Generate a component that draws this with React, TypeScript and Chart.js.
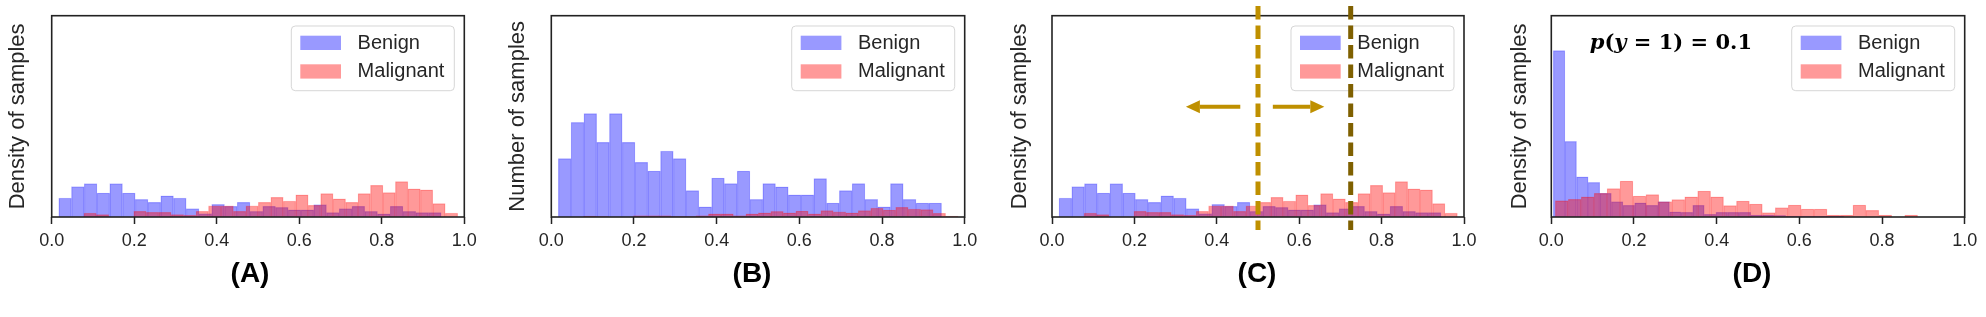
import React, { useEffect, useRef } from 'react';
import { Chart, registerables } from 'chart.js';

Chart.register(...registerables);

// ---------- data ----------
const X_TICKS = [0, 0.2, 0.4, 0.6, 0.8, 1.0];
const SERIES = ['Benign', 'Malignant'];
const CAPTIONS = ['(A)', '(B)', '(C)', '(D)'];
const Y_TITLES = ['Density of samples', 'Number of samples', 'Density of samples', 'Density of samples'];

// histogram bins: [left edge of first bin, bin width]
const BENIGN_BINS_ABC = [0.017, 0.0309];
const MALIGNANT_BINS_ABC = [0.078, 0.0302];
const BENIGN_BINS_D = [0.0048, 0.0281];
const MALIGNANT_BINS_D = [0.0097, 0.0313];

// (A) and (C): density
const benignDensityA = [1.57, 2.53, 2.78, 2.0, 2.78, 2.0, 1.47, 1.23, 1.77, 1.57, 0.7, 0.28, 1.05, 0.9, 1.23,
  0.47, 0.9, 0.8, 0.6, 0.6, 1.03, 0.37, 0.7, 0.9, 0.47, 0.27, 0.9, 0.47, 0.37, 0.37];
const malignantDensityA = [0.32, 0.21, 0, 0, 0.48, 0.4, 0.4, 0.21, 0.15, 0.48, 0.93, 0.93, 0.48, 0.93, 1.23,
  1.65, 1.32, 1.85, 0.98, 1.96, 1.52, 1.23, 1.96, 2.65, 2.04, 2.96, 2.35, 2.27, 1.13, 0.32];

// (B): counts
const benignCountB = [126, 204, 223, 161, 223, 161, 118, 99, 142, 126, 57, 22, 84, 72, 99,
  38, 72, 65, 48, 48, 83, 30, 57, 72, 38, 22, 72, 38, 30, 30];
const malignantCountB = [2, 1, 0, 0, 3, 3, 3, 1, 1, 3, 7, 7, 3, 7, 9,
  12, 9, 13, 7, 14, 11, 9, 14, 19, 15, 21, 17, 16, 8, 2];

// (D): density with p(y=1)=0.1
const benignDensityD = [13.89, 6.31, 3.36, 2.89, 1.98, 1.28, 0.98, 1.19, 0.98, 1.28, 0.44, 0.39, 0.98, 0.23, 0.39,
  0.39, 0.39, 0.17, 0.17, 0.13, 0.08, 0.08, 0.08, 0.06, 0.06];
const malignantDensityD = [1.36, 1.48, 1.69, 1.98, 2.38, 3.0, 1.75, 1.88, 1.28, 1.46, 1.69, 2.17, 1.69, 0.96,
  1.33, 1.08, 0.36, 0.78, 1.0, 0.67, 0.67, 0.17, 0.17, 1.0, 0.56, 0.17, 0, 0.17];

// (C) annotations
const thresholdsC = [0.5, 0.725];
const arrowStartC = [0.457, 0.536];
const arrowEndC = [0.325, 0.661];
const arrowLevelC = 9.2;
const PRIOR_LABEL = ['p', '(', 'y', ' = 1) = 0.1'];

const Y_MAX_DENSITY = 16.8;
const Y_MAX_COUNT = 434;

// ---------- styles / layout ----------
const FONT = '"Liberation Sans", Arial, Helvetica, sans-serif';
const TEXT_COLOR = '#262626';
const BENIGN_FILL = 'rgba(0,0,255,0.4)';
const BENIGN_EDGE = 'rgba(0,0,255,0.24)';
const MALIGNANT_FILL = 'rgba(255,0,0,0.4)';
const MALIGNANT_EDGE = 'rgba(255,0,0,0.24)';
const THRESHOLD_COLORS = ['#BF9000', '#7F6000'];
const ARROW_COLOR = '#BF9000';
const H = 317;
const PLOT_TOP = 15.7;
const PLOT_BOTTOM = 217;
const Y_TITLE_SIZE = 22;

const PANELS = [
  { canvasLeft: 0, width: 496, plotLeft: 51.7, plotRight: 464.3, yTitleX: 18.3, yMax: Y_MAX_DENSITY,
    benign: benignDensityA, malignant: malignantDensityA, bBins: BENIGN_BINS_ABC, mBins: MALIGNANT_BINS_ABC, captionX: 250 },
  { canvasLeft: 496, width: 496, plotLeft: 551.3, plotRight: 964.7, yTitleX: 517.7, yMax: Y_MAX_COUNT,
    benign: benignCountB, malignant: malignantCountB, bBins: BENIGN_BINS_ABC, mBins: MALIGNANT_BINS_ABC, captionX: 752 },
  { canvasLeft: 992, width: 496, plotLeft: 1052, plotRight: 1464, yTitleX: 1020.3, yMax: Y_MAX_DENSITY,
    benign: benignDensityA, malignant: malignantDensityA, bBins: BENIGN_BINS_ABC, mBins: MALIGNANT_BINS_ABC, captionX: 1257,
    annotate: true },
  { canvasLeft: 1488, width: 498, plotLeft: 1551.3, plotRight: 1964.7, yTitleX: 1519.7, yMax: Y_MAX_DENSITY,
    benign: benignDensityD, malignant: malignantDensityD, bBins: BENIGN_BINS_D, mBins: MALIGNANT_BINS_D, captionX: 1752 },
];

const binPoints = (values: number[], bins: number[]) =>
  values.map((v, i) => ({ x: bins[0] + bins[1] * (i + 0.5), y: v }));

function roundRect(ctx: CanvasRenderingContext2D, x: number, y: number, w: number, h: number, r: number) {
  ctx.beginPath();
  ctx.moveTo(x + r, y);
  ctx.lineTo(x + w - r, y);
  ctx.arcTo(x + w, y, x + w, y + r, r);
  ctx.lineTo(x + w, y + h - r);
  ctx.arcTo(x + w, y + h, x + w - r, y + h, r);
  ctx.lineTo(x + r, y + h);
  ctx.arcTo(x, y + h, x, y + h - r, r);
  ctx.lineTo(x, y + r);
  ctx.arcTo(x, y, x + r, y, r);
  ctx.closePath();
}

const framePlugin = {
  id: 'frameBox',
  afterDatasetsDraw(chart: any) {
    const { ctx, chartArea: a } = chart;
    ctx.save();
    ctx.strokeStyle = '#222';
    ctx.lineWidth = 1.6;
    ctx.strokeRect(a.left, a.top, a.right - a.left, a.bottom - a.top);
    ctx.restore();
  },
};

const legendPlugin = {
  id: 'boxLegend',
  afterDraw(chart: any) {
    const { ctx, chartArea: a } = chart;
    const w = 163, h = 64.7;
    const x0 = a.right - 10 - w, y0 = a.top + 10.3;
    ctx.save();
    roundRect(ctx, x0, y0, w, h, 4);
    ctx.fillStyle = 'rgba(255,255,255,0.8)';
    ctx.fill();
    ctx.strokeStyle = 'rgba(204,204,204,0.8)';
    ctx.lineWidth = 1;
    ctx.stroke();
    SERIES.forEach((name, i) => {
      const py = y0 + 9.7 + i * 28.6;
      ctx.fillStyle = i === 0 ? BENIGN_FILL : MALIGNANT_FILL;
      ctx.fillRect(x0 + 9, py, 40.7, 14.3);
      ctx.fillStyle = TEXT_COLOR;
      ctx.font = `20px ${FONT}`;
      ctx.textBaseline = 'middle';
      ctx.textAlign = 'left';
      ctx.fillText(name, x0 + 66.3, py + 7.4);
    });
    ctx.restore();
  },
};

const annotationPlugin = {
  id: 'thresholdLines',
  afterDraw(chart: any) {
    if (!chart.options.plugins.thresholdLines?.enabled) return;
    const { ctx, chartArea: a, scales } = chart;
    const xs = scales.x, ys = scales.y;
    ctx.save();
    // arrows
    const yA = ys.getPixelForValue(arrowLevelC);
    arrowStartC.forEach((s, i) => {
      const x1 = xs.getPixelForValue(s);
      const x2 = xs.getPixelForValue(arrowEndC[i]);
      const dir = x2 > x1 ? 1 : -1;
      const headLen = 14, headHalf = 6.5;
      ctx.strokeStyle = ARROW_COLOR;
      ctx.fillStyle = ARROW_COLOR;
      ctx.lineWidth = 4;
      ctx.setLineDash([]);
      ctx.beginPath();
      ctx.moveTo(x1, yA);
      ctx.lineTo(x2 - dir * headLen, yA);
      ctx.stroke();
      ctx.beginPath();
      ctx.moveTo(x2, yA);
      ctx.lineTo(x2 - dir * headLen, yA - headHalf);
      ctx.lineTo(x2 - dir * headLen, yA + headHalf);
      ctx.closePath();
      ctx.fill();
    });
    // dashed thresholds
    thresholdsC.forEach((t, i) => {
      const x = xs.getPixelForValue(t);
      ctx.strokeStyle = THRESHOLD_COLORS[i];
      ctx.lineWidth = 5;
      ctx.setLineDash([13.5, 6]);
      ctx.beginPath();
      ctx.moveTo(x, a.top - 9.7);
      ctx.lineTo(x, a.bottom + 13);
      ctx.stroke();
    });
    ctx.restore();
  },
};

function Panel({ idx }: { idx: number }) {
  const ref = useRef<HTMLCanvasElement>(null);
  const cfg: any = PANELS[idx];
  useEffect(() => {
    const canvas = ref.current;
    if (!canvas) return;
    const lh = Y_TITLE_SIZE * 1.2;
    const chart = new Chart(canvas, {
      type: 'bar',
      data: {
        datasets: [
          {
            label: SERIES[1],
            data: binPoints(cfg.malignant, cfg.mBins),
            xAxisID: 'xm',
            backgroundColor: MALIGNANT_FILL,
            borderColor: MALIGNANT_EDGE,
            borderWidth: 0.6,
            barPercentage: 1,
            categoryPercentage: 1,
            grouped: false,
            order: 1,
          },
          {
            label: SERIES[0],
            data: binPoints(cfg.benign, cfg.bBins),
            xAxisID: 'x',
            backgroundColor: BENIGN_FILL,
            borderColor: BENIGN_EDGE,
            borderWidth: 0.6,
            barPercentage: 1,
            categoryPercentage: 1,
            grouped: false,
            order: 2,
          },
        ],
      } as any,
      options: {
        responsive: false,
        animation: false,
        events: [],
        layout: {
          padding: { top: PLOT_TOP, bottom: 0, left: 0, right: cfg.canvasLeft + cfg.width - cfg.plotRight },
        },
        plugins: {
          legend: { display: false },
          tooltip: { enabled: false },
          thresholdLines: { enabled: !!cfg.annotate },
        } as any,
        scales: {
          x: {
            type: 'linear',
            axis: 'x',
            position: 'bottom',
            min: 0,
            max: 1,
            offset: false,
            afterFit: (s: any) => { s.height = H - PLOT_BOTTOM; },
            afterBuildTicks: (s: any) => { s.ticks = X_TICKS.map((v) => ({ value: v })); },
            ticks: {
              stepSize: 0.2,
              autoSkip: false,
              maxRotation: 0,
              padding: 6,
              color: TEXT_COLOR,
              font: { family: FONT, size: 18 },
              callback: (v: any) => Number(v).toFixed(1),
            },
            grid: {
              offset: false,
              drawOnChartArea: false,
              drawTicks: true,
              tickLength: 7,
              tickWidth: 1.5,
              tickColor: '#222',
            },
            border: { display: false },
          },
          xm: {
            type: 'linear',
            axis: 'x',
            position: 'bottom',
            min: 0,
            max: 1,
            offset: false,
            display: false,
            grid: { offset: false },
          },
          y: {
            type: 'linear',
            min: 0,
            max: cfg.yMax,
            afterFit: (s: any) => { s.width = cfg.plotLeft - cfg.canvasLeft; },
            ticks: { display: false },
            grid: { display: false },
            border: { display: false },
            title: {
              display: true,
              text: Y_TITLES[idx],
              color: TEXT_COLOR,
              font: { family: FONT, size: Y_TITLE_SIZE },
              padding: { top: cfg.yTitleX - cfg.canvasLeft - lh / 2, bottom: 0 },
            },
          },
        } as any,
      },
      plugins: [framePlugin, legendPlugin, annotationPlugin],
    });
    return () => chart.destroy();
  }, []);
  return (
    <canvas
      ref={ref}
      width={cfg.width}
      height={H}
      style={{ position: 'absolute', left: cfg.canvasLeft, top: 0, width: cfg.width, height: H }}
    />
  );
}

export default function App() {
  return (
    <div style={{ position: 'absolute', left: 0, top: 0, width: 1986, height: H, background: '#fff', overflow: 'hidden' }}>
      {PANELS.map((_, i) => (
        <Panel key={i} idx={i} />
      ))}
      {PANELS.map((p, i) => (
        <div
          key={'c' + i}
          style={{
            position: 'absolute',
            left: p.captionX - 60,
            width: 120,
            top: 256.3,
            textAlign: 'center',
            font: `bold 28px ${FONT}`,
            lineHeight: '34px',
            color: '#000',
          }}
        >
          {CAPTIONS[i]}
        </div>
      ))}
      <div
        style={{
          position: 'absolute',
          left: 1589.7,
          top: 28.5,
          font: 'bold 21px "DejaVu Serif", "Liberation Serif", serif',
          lineHeight: '26px',
          color: '#000',
          whiteSpace: 'pre',
        }}
      >
        <i>{PRIOR_LABEL[0]}</i>
        {PRIOR_LABEL[1]}
        <i>{PRIOR_LABEL[2]}</i>
        {PRIOR_LABEL[3]}
      </div>
    </div>
  );
}
